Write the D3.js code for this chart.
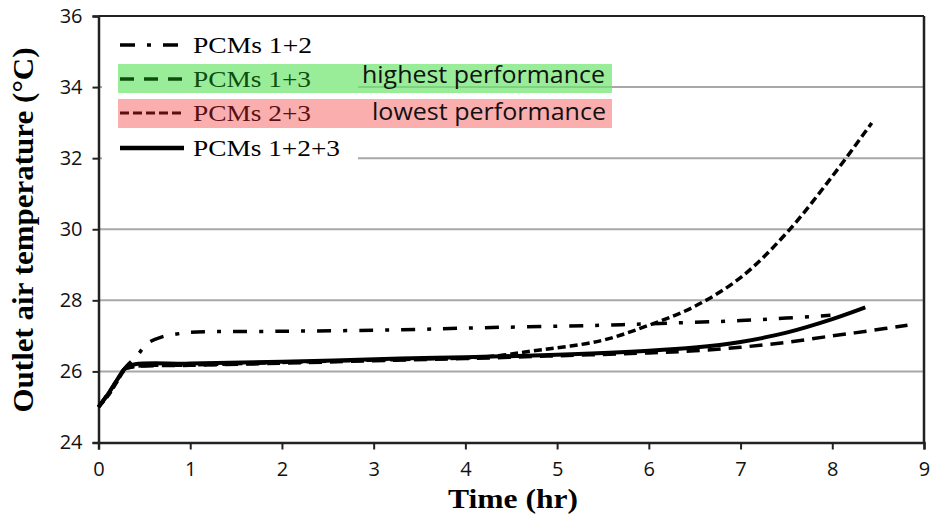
<html>
<head>
<meta charset="utf-8" />
<script src="https://cdn.jsdelivr.net/npm/d3@7"></script>
<style>
body { margin: 0; background: #fff; }
.tick text { font-family: "Open Sans", sans-serif; font-size: 20px; fill: #111; }
</style>
</head>
<body>
<svg id="chart" width="933" height="520"></svg>
</body>
<script>

var xTicks = [0, 1, 2, 3, 4, 5, 6, 7, 8, 9];
var yTicks = [24, 26, 28, 30, 32, 34, 36];

// PCMs 1+2 (dash-dot)
var pcm12 = [[0,25],[0.15,25.55],[0.29,26.1],[0.42,26.44],[0.53,26.78],[0.7,26.98],[0.85,27.05],[1,27.1],
  [2,27.13],[3.3,27.17],[4,27.22],[5.36,27.29],[6,27.34],[7,27.43],[7.5,27.5],[7.98,27.58]];
// PCMs 1+3 (long dash)
var pcm13 = [[0,25],[0.1,25.35],[0.2,25.75],[0.29,26.08],[0.4,26.14],[1,26.17],[2,26.23],[3,26.3],
  [4,26.36],[5,26.44],[6,26.52],[6.5,26.58],[7,26.68],[7.5,26.82],[8,27.0],[8.4,27.14],[8.82,27.3]];
// PCMs 2+3 (short dash)
var pcm23 = [[0,25],[0.1,25.3],[0.2,25.7],[0.29,26.05],[0.4,26.14],[1,26.18],[2,26.25],[3,26.32],
  [4,26.38],[4.38,26.45],[4.74,26.58],[5.47,26.86],[6,27.3],[6.5,27.83],[7,28.64],[7.5,29.89],
  [8,31.49],[8.43,32.99]];
// PCMs 1+2+3 (solid)
var pcm123 = [[0,25],[0.1,25.35],[0.2,25.75],[0.29,26.08],[0.4,26.2],[1,26.22],[2,26.27],[3.29,26.36],
  [4,26.4],[5,26.47],[6,26.58],[6.5,26.67],[7,26.83],[7.5,27.09],[8,27.47],[8.36,27.8]];

var legendNames = ["PCMs 1+2", "PCMs 1+3", "PCMs 2+3", "PCMs 1+2+3"];

var svg = d3.select("#chart");
var x = d3.scaleLinear().domain([0, 9]).range([98.5, 924]);
var y = d3.scaleLinear().domain([24, 36]).range([442.5, 16]);

// gridlines
svg.append("g").selectAll("line")
  .data(yTicks.filter(function(d) { return d > 24 && d < 36; }))
  .enter().append("line")
  .attr("x1", x(0)).attr("x2", x(9))
  .attr("y1", function(d) { return y(d); })
  .attr("y2", function(d) { return y(d); })
  .attr("stroke", "#a8a8a8").attr("stroke-width", 2);

// legend background covers gridlines at left
svg.append("rect").attr("x", 102).attr("y", 24).attr("width", 256).attr("height", 145).attr("fill", "#fff");

// frame top + right
svg.append("line").attr("x1", x(0)).attr("x2", x(9)).attr("y1", y(36)).attr("y2", y(36))
  .attr("stroke", "#222").attr("stroke-width", 2);
svg.append("line").attr("x1", x(9)).attr("x2", x(9)).attr("y1", y(36)).attr("y2", y(24))
  .attr("stroke", "#222").attr("stroke-width", 2.5);

// axes
var xAxis = svg.append("g").attr("transform", "translate(0," + y(24) + ")")
  .call(d3.axisBottom(x).tickValues(xTicks).tickSize(7).tickPadding(12).tickFormat(d3.format("d")));
var yAxis = svg.append("g").attr("transform", "translate(" + x(0) + ",0)")
  .call(d3.axisLeft(y).tickValues(yTicks).tickSize(6).tickPadding(10).tickFormat(d3.format("d")));
[xAxis, yAxis].forEach(function(a) {
  a.select(".domain").attr("stroke", "#222").attr("stroke-width", 2.5);
  a.selectAll(".tick line").attr("stroke", "#222").attr("stroke-width", 2);
});

// highlight boxes
svg.append("rect").attr("x", 118).attr("y", 64).attr("width", 494).attr("height", 29)
  .attr("fill", "rgb(110,230,110)").attr("fill-opacity", 0.7);
svg.append("rect").attr("x", 118).attr("y", 99).attr("width", 494).attr("height", 29)
  .attr("fill", "rgb(250,140,140)").attr("fill-opacity", 0.7);

var line = d3.line()
  .curve(d3.curveCatmullRom.alpha(0.5))
  .x(function(d) { return x(d[0]); })
  .y(function(d) { return y(d[1]); });

var series = [
  {data: pcm13, dash: "13,8", w: 3.5},
  {data: pcm23, dash: "8,4", w: 3.5},
  {data: pcm12, dash: "14,12,4,12", w: 3.5},
  {data: pcm123, dash: null, w: 4}
];
series.forEach(function(s) {
  svg.append("path").datum(s.data)
    .attr("d", line)
    .attr("fill", "none")
    .attr("stroke", "#000")
    .attr("stroke-width", s.w)
    .attr("stroke-dasharray", s.dash);
});

// legend
var legStyles = [
  {dash: "15,12,4,12", col: "#000", text: "#000", w: 3.5, len: 119},
  {dash: "14,10", col: "#0d4d0d", text: "#0d4d0d", w: 3.5, len: 118},
  {dash: "9,4", col: "#5a1010", text: "#5a1010", w: 3, len: 118},
  {dash: null, col: "#000", text: "#000", w: 4.5, len: 147}
];
var legY = [45, 79, 113, 148];
legendNames.forEach(function(n, i) {
  svg.append("line").attr("x1", 120).attr("x2", 184).attr("y1", legY[i]).attr("y2", legY[i])
    .attr("stroke", legStyles[i].col).attr("stroke-width", legStyles[i].w)
    .attr("stroke-dasharray", legStyles[i].dash);
  svg.append("text").attr("x", 193).attr("y", legY[i] + 8)
    .attr("font-family", "Liberation Serif, serif").attr("font-size", 24)
    .attr("textLength", legStyles[i].len).attr("lengthAdjust", "spacingAndGlyphs")
    .attr("fill", legStyles[i].text).text(n);
});

svg.append("text").attr("x", 362).attr("y", 83)
  .attr("font-family", "Open Sans, sans-serif").attr("font-size", 23).attr("fill", "#111")
  .attr("textLength", 243).attr("lengthAdjust", "spacingAndGlyphs")
  .text("highest performance");
svg.append("text").attr("x", 372).attr("y", 120)
  .attr("font-family", "Open Sans, sans-serif").attr("font-size", 23).attr("fill", "#111")
  .attr("textLength", 234).attr("lengthAdjust", "spacingAndGlyphs")
  .text("lowest performance");

// axis titles
svg.append("text").attr("x", 513).attr("y", 508).attr("text-anchor", "middle")
  .attr("font-family", "Liberation Serif, serif").attr("font-weight", "bold").attr("font-size", 28)
  .attr("textLength", 130).attr("lengthAdjust", "spacingAndGlyphs")
  .text("Time (hr)");
svg.append("text").attr("transform", "translate(33,230) rotate(-90)").attr("text-anchor", "middle")
  .attr("font-family", "Liberation Serif, serif").attr("font-weight", "bold").attr("font-size", 29)
  .attr("textLength", 365).attr("lengthAdjust", "spacingAndGlyphs")
  .text("Outlet air temperature (°C)");

</script>
</html>
